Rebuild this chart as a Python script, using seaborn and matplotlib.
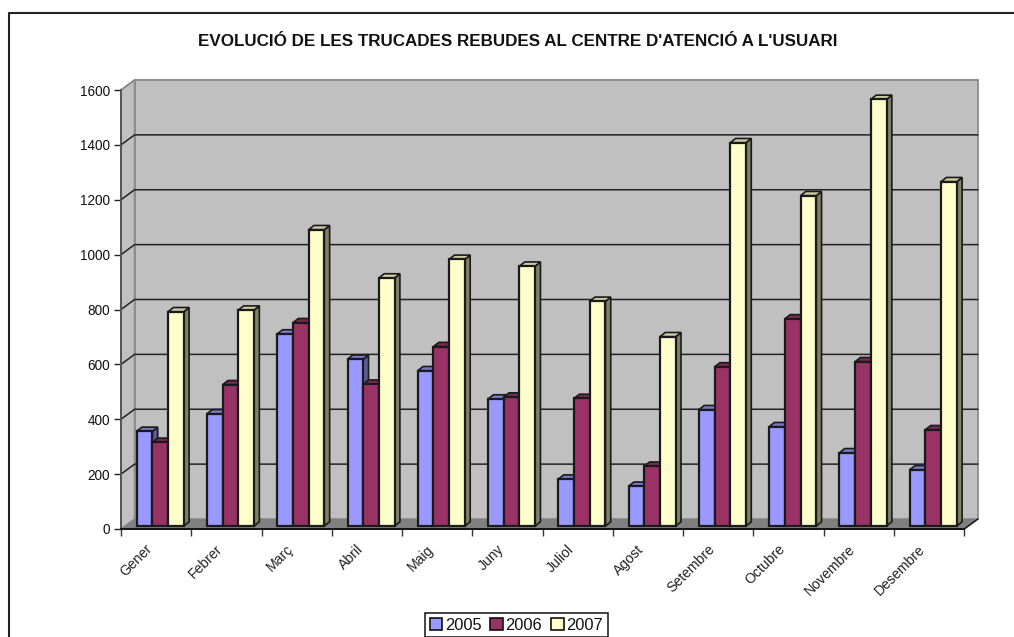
import matplotlib
matplotlib.use("Agg")
import matplotlib.pyplot as plt
import seaborn as sns
import pandas as pd
from matplotlib.patches import Polygon, Rectangle
from matplotlib.lines import Line2D
from matplotlib.transforms import IdentityTransform, Affine2D

months = ["Gener", "Febrer", "Març", "Abril", "Maig", "Juny", "Juliol", "Agost",
          "Setembre", "Octubre", "Novembre", "Desembre"]
v2005 = [345, 409, 700, 608, 566, 463, 171, 145, 424, 362, 267, 205]
v2006 = [305, 515, 741, 517, 654, 470, 465, 218, 580, 755, 599, 351]
v2007 = [781, 787, 1080, 904, 972, 947, 819, 690, 1397, 1204, 1555, 1255]
years = ["2005", "2006", "2007"]
y_ticks = [0, 200, 400, 600, 800, 1000, 1200, 1400, 1600]
title = "EVOLUCIÓ DE LES TRUCADES REBUDES AL CENTRE D'ATENCIÓ A L'USUARI"

front_cols = ["#9999FF", "#993366", "#FFFFCC"]
top_cols = ["#7A7ACC", "#7A2952", "#CCCCA3"]
side_cols = ["#5C5C99", "#5C1F3D", "#808066"]

df = pd.DataFrame({
    "mes": months * 3,
    "any": [y for y in years for _ in months],
    "valor": v2005 + v2006 + v2007,
})

sns.set_style("white")
plt.rcParams["font.family"] = ["Liberation Sans", "DejaVu Sans"]

W, H = 1014, 637
fig = plt.figure(figsize=(W / 100, H / 100), dpi=100, facecolor="white")
ax = fig.add_axes([121 / W, (H - 529) / H, (964.3 - 121) / W, 439 / H])
ax.patch.set_alpha(0)

sns.barplot(data=df, x="mes", y="valor", hue="any", order=months, hue_order=years,
            palette=front_cols, saturation=1, width=0.67, gap=0, dodge=True,
            edgecolor="#1A1A1A", linewidth=1.6, ax=ax, legend=False, errorbar=None)
ax.set_xlim(-0.5, 11.5)
ax.set_ylim(0, 1600)
ax.set_xlabel("")
ax.set_ylabel("")

ident = IdentityTransform()
WALL_DX, WALL_DY = 13.6, 10.0
BAR_DX, BAR_DY = 4.1, 3.0
DEPTH_DX, DEPTH_DY = 5.3, 4.2


def px(x, y):
    return ax.transData.transform((x, y))


def shifted(pt, dx, dy):
    return (pt[0] + dx, pt[1] + dy)


x0, x1 = ax.get_xlim()
bl, tl, br = px(x0, 0), px(x0, 1600), px(x1, 0)
tr = px(x1, 1600)

# back wall, left wall, floor
ax.add_patch(Polygon([shifted(p, WALL_DX, WALL_DY) for p in (bl, tl, tr, br)], closed=True,
                     transform=ident, facecolor="#C0C0C0", edgecolor="#8C8C8C", lw=1.3,
                     clip_on=False, zorder=0.2))
ax.add_patch(Polygon([bl, tl, shifted(tl, WALL_DX, WALL_DY), shifted(bl, WALL_DX, WALL_DY)],
                     closed=True, transform=ident, facecolor="#C0C0C0", edgecolor="#8C8C8C",
                     lw=1.3, clip_on=False, zorder=0.25))
ax.add_patch(Polygon([bl, br, shifted(br, WALL_DX, WALL_DY), shifted(bl, WALL_DX, WALL_DY)],
                     closed=True, transform=ident, facecolor="#808080", edgecolor="none",
                     clip_on=False, zorder=0.3))

# gridlines
for t in y_ticks[1:]:
    a, b = px(x0, t), px(x1, t)
    pts = [a, shifted(a, WALL_DX, WALL_DY), shifted(b, WALL_DX, WALL_DY)]
    ax.add_line(Line2D([p[0] for p in pts], [p[1] for p in pts], transform=ident,
                       color="#222222" if t != 1600 else "#8C8C8C", lw=1.1,
                       clip_on=False, zorder=0.35))

# 3D bar faces
shift = Affine2D().translate(BAR_DX, BAR_DY)
items = []
for k, cont in enumerate(ax.containers):
    for bar in cont:
        items.append((bar.get_x(), k, bar))
items.sort(key=lambda it: it[0])
z = 1.0
for _, k, bar in items:
    x, w, h = bar.get_x(), bar.get_width(), bar.get_height()
    lt = shifted(px(x, h), BAR_DX, BAR_DY)
    rt = shifted(px(x + w, h), BAR_DX, BAR_DY)
    rb = shifted(px(x + w, 0), BAR_DX, BAR_DY)
    ax.add_patch(Polygon([rb, rt, shifted(rt, DEPTH_DX, DEPTH_DY), shifted(rb, DEPTH_DX, DEPTH_DY)],
                         closed=True, transform=ident, facecolor=side_cols[k],
                         edgecolor="#1A1A1A", lw=1.2, clip_on=False, zorder=z))
    ax.add_patch(Polygon([lt, rt, shifted(rt, DEPTH_DX, DEPTH_DY), shifted(lt, DEPTH_DX, DEPTH_DY)],
                         closed=True, transform=ident, facecolor=top_cols[k],
                         edgecolor="#1A1A1A", lw=1.2, clip_on=False, zorder=z + 0.1))
    bar.set_transform(ax.transData + shift)
    bar.set_clip_on(False)
    bar.set_zorder(z + 0.2)
    z += 0.3

# axes
for s in ("top", "right"):
    ax.spines[s].set_visible(False)
ax.spines["left"].set_color("#555555")
ax.spines["left"].set_linewidth(1.4)
ax.spines["bottom"].set_color("#111111")
ax.spines["bottom"].set_linewidth(1.4)
for s in ax.spines.values():
    s.set_zorder(20)

ax.set_yticks(y_ticks)
ax.set_yticklabels([str(t) for t in y_ticks])
ax.tick_params(axis="y", left=True, length=5.2, width=1.0, color="#222222", pad=2.8,
               labelsize=9.8, labelcolor="#111111")
ax.set_xticks(range(len(months)))
ax.set_xticks([i - 0.5 for i in range(len(months) + 1)], minor=True)
ax.tick_params(axis="x", which="major", bottom=False, length=0, pad=13,
               labelsize=10.1, labelcolor="#222222")
ax.tick_params(axis="x", which="minor", bottom=True, length=5.2, width=1.0, color="#333333")
ax.set_xticklabels(months, rotation=45, ha="right", va="center", rotation_mode="anchor")
for lab in ax.get_xticklabels():
    lab.set_transform(lab.get_transform() + Affine2D().translate(-6, 0))

# floor corner line at right
a = br
ax.add_line(Line2D([a[0], a[0] + WALL_DX], [a[1], a[1] + WALL_DY], transform=ident,
                   color="#111111", lw=1.1, clip_on=False, zorder=0.4))

# title, frame, legend
fig.text(518 / W, 1 - 41 / H, title, ha="center", va="center", fontsize=12.25,
         fontweight="bold", color="#111111")
fig.add_artist(Line2D([8.5 / W, 8.5 / W, 1], [0, 1 - 13 / H, 1 - 13 / H],
                      transform=fig.transFigure, color="#222222", lw=1.5))

handles = [Rectangle((0, 0), 1, 1, facecolor=c, edgecolor="#111111", lw=1.2) for c in front_cols]
leg = fig.legend(handles, years, loc="upper left", bbox_to_anchor=(425 / W, 1 - 613 / H),
                 ncol=3, frameon=True, fancybox=False, edgecolor="#111111", framealpha=1,
                 fontsize=11.9, handlelength=0.75, handleheight=0.75, handletextpad=0.17,
                 columnspacing=0.54, borderpad=0.28, borderaxespad=0, labelcolor="#111111")
leg.get_frame().set_linewidth(1.1)

fig.savefig("out.png", dpi=100, facecolor="white")
